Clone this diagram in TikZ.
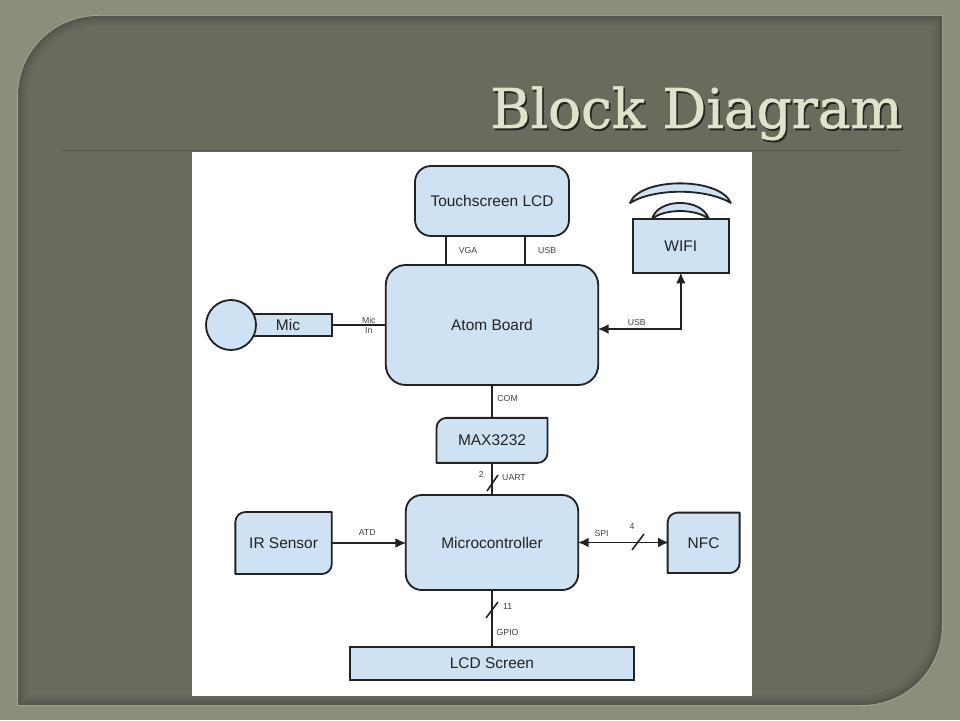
\documentclass[tikz,border=0pt]{standalone}
\usepackage{fontspec}
\setmainfont{Liberation Sans}
\newfontfamily\titlefont[FakeBold=1.2]{DejaVu Serif}
\usetikzlibrary{arrows.meta}

\definecolor{slideedge}{HTML}{8B8E7A}
\definecolor{slidepanel}{HTML}{696B5D}
\definecolor{slidelight}{HTML}{A8AB96}
\definecolor{rulegreen}{HTML}{4B5542}
\definecolor{blockblue}{HTML}{CFE2F3}
\definecolor{blockline}{HTML}{222222}
\definecolor{titlecream}{HTML}{E0E3CB}

% outline of the slide panel
\newcommand{\panelpath}{(0.45, 0.375) -- (21.55, 0.375)
	arc[start angle=270, end angle=360, radius=2] -- (23.55, 17.6) -- (2.45, 17.6)
	arc[start angle=90, end angle=180, radius=2] -- cycle}

% box with only the top left and bottom right corners rounded
\newcommand{\leafblock}[6]{%
	\path (#2, #3) node[leafspace, minimum width=#4cm, minimum height=#5cm] (#1) {};
	\draw[leaf] (#1.north east) -- ([xshift=0.25cm]#1.north west)
		arc[start angle=90, end angle=180, radius=0.25cm] -- (#1.south west)
		-- ([xshift=-0.25cm]#1.south east)
		arc[start angle=270, end angle=360, radius=0.25cm] -- cycle;
	\path (#1) node[blocktext] {#6};
}

\begin{document}
\begin{tikzpicture}
	[auto,
	blocktext/.style ={font=\fontsize{11}{13}\selectfont, text=blockline, inner sep=0pt},
	block/.style ={rectangle, draw=blockline, line width=1.3pt, fill=blockblue, blocktext, rounded corners=0.4cm},
	plainblock/.style ={block, rounded corners=0pt},
	leafspace/.style ={rectangle, inner sep=0pt, outer sep=0pt},
	leaf/.style ={draw=blockline, line width=1.3pt, fill=blockblue, line join=round},
	tag/.style ={font=\fontsize{6.2}{7.2}\selectfont, text=blockline!85!white, inner sep=0pt, align=center},
	line/.style ={draw=blockline, line width=1.3pt},
	arrow/.style ={line, -{Latex[length=0.27cm, width=0.24cm]}, shorten >=-1pt},
	twoarrow/.style ={line, {Latex[length=0.27cm, width=0.24cm]}-{Latex[length=0.27cm, width=0.24cm]}, shorten >=-1pt, shorten <=-1pt},
	slash/.style ={draw=blockline, line width=1.1pt},
	titletext/.style ={font=\titlefont\fontsize{39}{44}\selectfont, anchor=base}]
	\useasboundingbox (0, 0) rectangle (24, 18);
	% slide background
	\fill[slideedge] (0, 0) rectangle (24, 18);
	\draw[slidelight, line width=1.2pt] \panelpath;
	\fill[slidepanel] \panelpath;
	\begin{scope}
		\clip \panelpath;
		\foreach \w/\o in {0.5/0.04, 0.32/0.05, 0.16/0.08}
			\draw[black, line width=\w cm, opacity=\o] \panelpath;
	\end{scope}
	\draw[rulegreen, line width=0.9pt] (1.55, 14.24) -- (22.525, 14.24);
	\draw (17.45, 14.75) node[titletext, text=black!65!slidepanel] (titleshade) {Block Diagram};
	\draw (17.41, 14.8) node[titletext, text=titlecream] (title) {Block Diagram};
	\fill[white] (4.8, 0.6) rectangle (18.8, 14.2);
	% blocks
	\draw (12.3, 12.975) node[block, minimum width=3.85cm, minimum height=1.75cm] (touch) {Touchscreen LCD};
	\draw (12.3, 9.875) node[block, rounded corners=0.5cm, minimum width=5.31cm, minimum height=3cm] (atom) {Atom Board};
	\draw (17.02, 11.85) node[plainblock, minimum width=2.41cm, minimum height=1.35cm] (wifi) {WIFI};
	\draw (7.2, 9.875) node[plainblock, minimum width=2.2cm, minimum height=0.55cm] (mic) {Mic};
	\draw (5.775, 9.875) node[circle, draw=blockline, line width=1.3pt, fill=blockblue, minimum size=1.25cm] (micball) {};
	\leafblock{max}{12.3}{6.99}{2.775}{1.125}{MAX3232}
	\draw (12.3, 4.4375) node[block, minimum width=4.31cm, minimum height=2.375cm] (micro) {Microcontroller};
	\leafblock{ir}{7.09}{4.425}{2.41}{1.55}{IR Sensor}
	\leafblock{nfc}{17.59}{4.43}{1.8}{1.51}{NFC}
	\draw (12.3, 1.4125) node[plainblock, minimum width=7.11cm, minimum height=0.825cm] (lcd) {LCD Screen};
	% wifi dome
	\draw[leaf] (15.75, 12.925) .. controls (16.0, 13.58) and (18.0, 13.58) .. (18.27, 12.925)
		.. controls (17.65, 13.3) and (16.35, 13.3) .. cycle;
	\draw[leaf] (16.3, 12.525) .. controls (16.45, 13.06) and (17.55, 13.06) .. (17.72, 12.525)
		.. controls (17.4, 12.79) and (16.6, 12.79) .. cycle;
	% connectors
	\draw[line] ([xshift=-1.15cm]touch.south) -- ([xshift=-1.15cm]atom.north);
	\draw[line] ([xshift=0.825cm]touch.south) -- ([xshift=0.825cm]atom.north);
	\draw[line] (mic.east) -- (atom.west);
	\draw[twoarrow] ([yshift=-0.1cm]atom.east) -| (wifi.south);
	\draw[line] (atom.south) -- (max.north);
	\draw[line] (max.south) -- (micro.north);
	\draw[arrow] (ir.east) -- (ir.east -| micro.west);
	\draw[twoarrow] (micro.east) -- (micro.east -| nfc.west);
	\draw[line] (micro.south) -- (lcd.north);
	% bus marks
	\coordinate (uartlow) at (12.175, 5.725);
	\coordinate (uarthigh) at (12.45, 6.125);
	\coordinate (spilow) at (15.8, 4.25);
	\coordinate (spihigh) at (16.1, 4.65);
	\coordinate (gpiolow) at (12.15, 2.55);
	\coordinate (gpiohigh) at (12.45, 2.95);
	\draw[slash] (uartlow) -- (uarthigh);
	\draw[slash] (spilow) -- (spihigh);
	\draw[slash] (gpiolow) -- (gpiohigh);
	% labels
	\draw (11.7, 11.75) node[tag] (vgatag) {VGA};
	\draw (13.68, 11.75) node[tag] (usbtoptag) {USB};
	\draw (9.22, 9.875) node[tag] (mictag) {Mic\\In};
	\draw (15.92, 9.93) node[tag] (usbtag) {USB};
	\draw (12.69, 8.03) node[tag] (comtag) {COM};
	\draw (12.03, 6.15) node[tag] (twotag) {2};
	\draw (12.85, 6.05) node[tag] (uarttag) {UART};
	\draw (9.18, 4.7) node[tag] (atdtag) {ATD};
	\draw (15.04, 4.67) node[tag] (spitag) {SPI};
	\draw (15.8, 4.83) node[tag] (fourtag) {4};
	\draw (12.69, 2.85) node[tag] (eleventag) {11};
	\draw (12.69, 2.18) node[tag] (gpiotag) {GPIO};
\end{tikzpicture}
\end{document}
